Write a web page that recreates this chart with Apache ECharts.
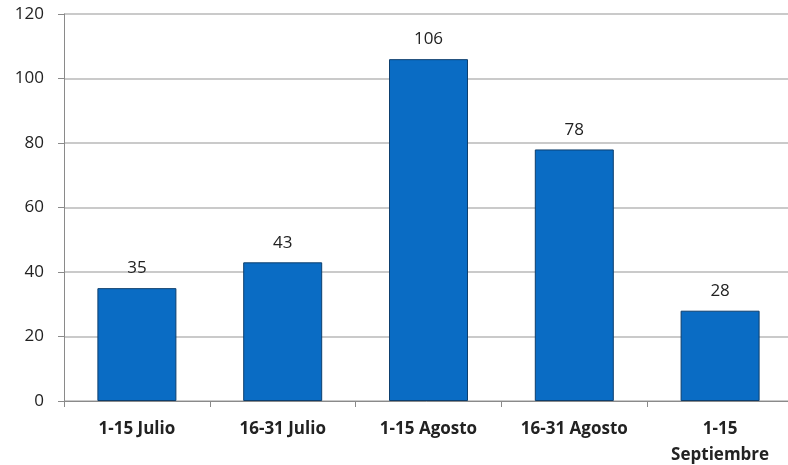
<!DOCTYPE html>
<html><head><meta charset="utf-8">
<script src="https://cdn.jsdelivr.net/npm/echarts@6/dist/echarts.min.js"></script>
<style>html,body{margin:0;padding:0;background:#fff;overflow:hidden}#c{width:788px;height:465px}</style>
</head><body><div id="c"></div>
<script>
const categories = ['1-15 Julio', '16-31 Julio', '1-15 Agosto', '16-31 Agosto', '1-15\nSeptiembre'];
const values = [35, 43, 106, 78, 28];
const yTicks = {min: 0, max: 120, interval: 20};

const chart = echarts.init(document.getElementById('c'), null, {renderer: 'canvas'});
chart.setOption({
  animation: false,
  grid: {left: 64, right: -5, top: 14, bottom: 64, containLabel: false, outerBoundsMode: 'none'},
  xAxis: {
    type: 'category', data: categories,
    axisLine: {lineStyle: {color: '#8a8a8a', width: 1}},
    axisTick: {show: true, length: 6, lineStyle: {color: '#8a8a8a'}},
    axisLabel: {color: '#222', fontFamily: 'Open Sans', fontWeight: 'bold', fontSize: 17, margin: 15, lineHeight: 26}
  },
  yAxis: {
    type: 'value', min: yTicks.min, max: yTicks.max, interval: yTicks.interval,
    axisLine: {show: true, lineStyle: {color: '#8a8a8a', width: 1}},
    axisTick: {show: true, length: 6, inside: false, lineStyle: {color: '#8a8a8a'}},
    splitLine: {lineStyle: {color: '#b8b8b8', width: 1.5}},
    axisLabel: {color: '#222', fontFamily: 'Open Sans', fontSize: 17, margin: 20}
  },
  series: [{
    type: 'bar', data: values, barWidth: 79,
    itemStyle: {color: '#0a6cc4', borderColor: '#0d3f6e', borderWidth: 1},
    label: {show: true, position: 'top', distance: 11, color: '#222', fontFamily: 'Open Sans', fontSize: 17}
  }]
});
</script></body></html>
